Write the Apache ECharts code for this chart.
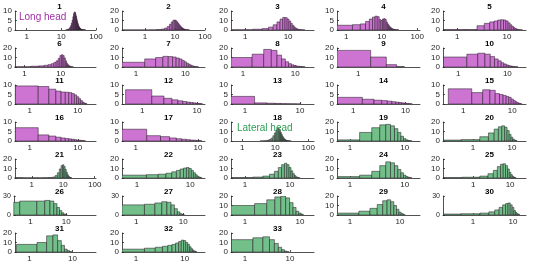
<!DOCTYPE html>
<html><head><meta charset="utf-8">
<script src="https://cdn.jsdelivr.net/npm/echarts@6/dist/echarts.min.js"></script>
<style>html,body{margin:0;padding:0;background:#fff}#c{width:535px;height:269px}</style>
</head><body><div id="c"></div>
<script>
// ---- DATA ----
const panelNames = ['1','2','3','4','5','6','7','8','9','10','11','12','13','14','15','16','17','18','19','20','21','22','23','24','25','26','27','28','29','30','31','32','33'];
const groupLabels = ['Long head', 'Lateral head'];
const longHeadCount = 17; // panels 1..17 long head, 18..33 lateral head
// integer bin (width 1) of the first value in each panel's array
const firstBin = [14,0,1,1,1, 1,1,1,1,1, 1,1,1,1,1, 1,1,4,1,0, 0,1,1,1,0, 0,1,1,1,0, 1,1,1];
const xMin = [0.46,0.17,0.47,0.55,0.52, 0.54,0.52,0.59,0.5,0.49, 0.49,0.43,0.56,0.49,0.39, 0.49,0.6,0.46,0.58,0.17, 0.29,0.52,0.49,0.58,0.15, 0.34,0.5,0.56,0.55,0.18, 0.46,0.52,0.49];
const xMax = [100,100,40,120,24, 95,25,23,7.5,24, 24,14,18,19,19, 24,13,150,19,23, 110,19,34,19,27, 68,29,18,25,21, 35,26,34];
const yMax = [10,20,20,10,20, 20,20,20,20,20, 10,10,10,10,10, 10,10,20,20,20, 20,20,20,20,20, 30,30,20,20,30, 20,20,20];
const xTickValues = [1, 10, 100];
const yTickValues = [0, 5, 10, 20, 30];

const v1 = [0.1,0.2,0.4,0.8,1.4,2.3,3.6,5.2,7.0,8.6,9.5,9.4,8.6,7.4,6.0,4.8,3.7,2.8,2.1,1.6,1.2,0.9,0.7,0.5,0.4,0.3,0.25,0.2,0.15,0.1,0.1,0.08,0.06,0.05,0.04,0.03,0.02];
const v2 = [0.1,0.1,0.2,0.5,1.0,2.0,3.6,6.0,8.5,10.3,10.5,9.8,8.5,7.0,5.6,4.4,3.4,2.6,2.0,1.5,1.1,0.8,0.6,0.45,0.35,0.25,0.2,0.15,0.1,0.08,0.05];
const v3 = [0.3,0.8,1.5,3.0,5.5,8.5,11.5,13.2,13.0,11.5,9.5,7.0,5.0,3.4,2.2,1.4,0.9,0.6,0.4,0.3,0.2,0.15,0.1,0.1];
const v4 = [2.5,2.8,3.2,4.5,5.8,6.8,7.3,7.0,5.5,5.0,5.8,6.0,5.5,4.2,3.2,2.4,1.8,1.3,1.0,0.7,0.5,0.4,0.3,0.2,0.15,0.12,0.1,0.08,0.06,0.05];
const v5 = [0.5,0.5,4.5,7,8.5,9.5,10.5,10.8,10.5,9.5,7.5,5.5,3.8,2.5,1.5,0.9,0.5,0.3,0.2,0.1];
const v6 = [0.3,0.8,1.2,1.8,2.5,3.5,4.8,6.5,9.0,12.0,13.0,12.0,9.5,6.5,4.0,2.5,1.5,0.9,0.5,0.3,0.2,0.1];
const v7 = [5,8.5,10,11.2,11,10.5,9.5,8.5,7.0,5.5,4.0,3.0,2.0,1.3,0.8,0.5,0.3,0.2];
const v8 = [10,13.5,18.5,17.5,12.5,8.5,5.5,3.5,2.3,1.5,1.0,0.7,0.5,0.3,0.2];
const v9 = [17.5,10.5,2.5,0.5];
const v10 = [10.5,13.5,14.5,13.5,11,8.5,6.5,4.5,3.2,2.2,1.5,1.0,0.7,0.5,0.3,0.2];
const v11 = [9.5,9.2,7.8,6.8,6.3,6.2,6.0,5.5,4.8,3.8,2.8,1.8,1.0,0.5,0.2];
const v12 = [7.5,4.2,3.0,2.2,1.7,1.3,1.0,0.8,0.6,0.4,0.3,0.2];
const v13 = [4.0,0.6,0.4,0.3,0.2,0.15,0.1,0.1,0.05,0.05];
const v14 = [3.5,2.5,2.0,1.8,1.5,1.2,1.0,0.8,0.6,0.4,0.3,0.2,0.1];
const v15 = [8,6,7.5,7.2,5.5,5.0,4.5,4.0,3.5,2.6,1.8,1.2,0.7,0.4,0.2];
const v16 = [7,3.2,2.6,2.0,1.6,1.3,1.1,0.9,0.7,0.5,0.4,0.3,0.2,0.1];
const v17 = [6.2,2.8,2.3,1.6,1.2,0.9,0.7,0.5,0.4,0.3,0.2];
const v18 = [0.1,0.3,0.7,1.5,3.0,5.5,8.5,11.5,13.2,13.0,11.5,9.0,6.8,5.0,3.5,2.4,1.6,1.1,0.8,0.5,0.35,0.25,0.2,0.15,0.1,0.08,0.05];
const v19 = [1.2,9,14,17,17.5,16,13,9,5,2.5,1.2,0.5,0.2];
const v20 = [1,1.5,4.5,8.5,12.5,15,16,14.5,11,7,4,2,1,0.4];
const v21 = [0.5,0.3,0.3,0.4,0.5,1,2.5,5.5,9.5,13,14,12,9,6,3.5,2,1,0.5,0.3];
const v22 = [3,3.5,4,5,6.5,8,9.5,10.5,11,10,8,5.5,3.5,2,1,0.5];
const v23 = [0.5,1,2,4,7,11,14,15.5,14,11,7.5,4.5,2.5,1.2,0.6,0.3];
const v24 = [1.5,3,7,13,17,16,13,9,5.5,3,1.5,0.7,0.3];
const v25 = [0.5,0.8,2,4.5,8,12,14.5,15,13,9.5,6,3.5,1.8,0.8,0.3];
const v26 = [20,22,22,23,22,18,12,7,3.5,1.5,0.5];
const v27 = [16,17,19,21,20,16,10,5,2,0.8];
const v28 = [10,12,16,19,20,18,13,8,4,2,0.8];
const v29 = [2,4,7,11,15,16,14,10,6,3,1.5,0.6];
const v30 = [1.5,2,3,5,8,12,16,18,19,16,12,7,4,2,1];
const v31 = [8,10,17,18,12,7,3,1.5,0.5];
const v32 = [3,4,5,6,7,8,9.5,11,12.5,12,10,8,5.5,3.5,2,1,0.5];
const v33 = [13,15,16,13,9,5,2.5,1,0.3];
const panelValues = [v1,v2,v3,v4,v5,v6,v7,v8,v9,v10,v11,v12,v13,v14,v15,v16,v17,v18,v19,v20,v21,v22,v23,v24,v25,v26,v27,v28,v29,v30,v31,v32,v33];

// ---- LAYOUT / STYLE ----
const colLeft = [13, 122, 231, 337, 443];
const plotW = 83;
const rowBottom = [30, 67, 104, 141, 178, 215, 252];
const plotH = 19;
const purpleFill = '#CD74D3';
const greenFill = '#72BF8A';
const edgeColor = 'rgba(30,20,30,0.85)';
const axisColor = '#262626';
const fontFam = '"Liberation Sans", Arial, sans-serif';

const grids = [], xAxes = [], yAxes = [], series = [], titles = [];
panelValues.forEach((vals, i) => {
  const col = i % 5, row = Math.floor(i / 5);
  const left = colLeft[col], top = rowBottom[row] - plotH;
  grids.push({left: left, top: top, width: plotW, height: plotH});
  const ticks = xTickValues.filter(t => t >= xMin[i] && t <= xMax[i]);
  xAxes.push({
    type: 'log', logBase: 10, gridIndex: i, min: xMin[i], max: xMax[i],
    axisLine: {show: true, lineStyle: {color: axisColor, width: 0.8}},
    axisTick: {show: true, inside: true, length: 2, customValues: ticks, lineStyle: {color: axisColor, width: 0.8}},
    axisLabel: {show: true, customValues: ticks, fontSize: 8, color: axisColor, margin: 3, fontFamily: fontFam},
    splitLine: {show: false}, minorTick: {show: false}
  });
  const ym = yMax[i];
  const step = ym === 10 ? 5 : 10;
  const yt = yTickValues.filter(t => t <= ym && t % step === 0);
  yAxes.push({
    type: 'value', gridIndex: i, min: 0, max: ym, interval: step,
    axisLine: {show: true, lineStyle: {color: axisColor, width: 0.8}},
    axisTick: {show: true, inside: true, length: 2, customValues: yt, lineStyle: {color: axisColor, width: 0.8}},
    axisLabel: {customValues: yt, interval: 0, fontSize: ym === 30 ? 7 : 8, lineHeight: ym === 30 ? 5 : 8,
      color: axisColor, margin: 3, fontFamily: fontFam,
      hideOverlap: false, showMinLabel: true, showMaxLabel: true},
    splitLine: {show: false}
  });
  const data = vals.map((v, j) => {
    const k = firstBin[i] + j;
    return [k - 0.5, k + 0.5, v];
  });
  const fill = i < longHeadCount ? purpleFill : greenFill;
  const lo = xMin[i];
  series.push({
    type: 'custom', xAxisIndex: i, yAxisIndex: i, clip: true,
    encode: {x: [0, 1], y: 2},
    data: data,
    renderItem: function (params, api) {
      const p0 = api.coord([Math.max(api.value(0), lo), api.value(2)]);
      const p1 = api.coord([api.value(1), 0]);
      return {type: 'rect', shape: {x: p0[0], y: p0[1], width: p1[0] - p0[0], height: p1[1] - p0[1]},
        style: {fill: fill, stroke: edgeColor, lineWidth: 0.6}};
    },
    silent: true, animation: false
  });
  titles.push({text: panelNames[i], left: left + plotW / 2, top: top - 13, textAlign: 'center',
    textStyle: {fontSize: 8, fontWeight: 'bold', color: '#000', fontFamily: fontFam}});
});
titles.push({text: groupLabels[0], left: colLeft[0] + 1, top: rowBottom[0] - plotH - 4,
  textStyle: {fontSize: 10, fontWeight: 'normal', color: '#A030A8', fontFamily: fontFam}});
titles.push({text: groupLabels[1], left: colLeft[2] + 1, top: rowBottom[3] - plotH - 4,
  textStyle: {fontSize: 10, fontWeight: 'normal', color: '#2E9E55', fontFamily: fontFam}});

const chart = echarts.init(document.getElementById('c'), null, {renderer: 'canvas'});
chart.setOption({animation: false, backgroundColor: '#fff', title: titles, grid: grids, xAxis: xAxes, yAxis: yAxes, series: series});
</script></body></html>
